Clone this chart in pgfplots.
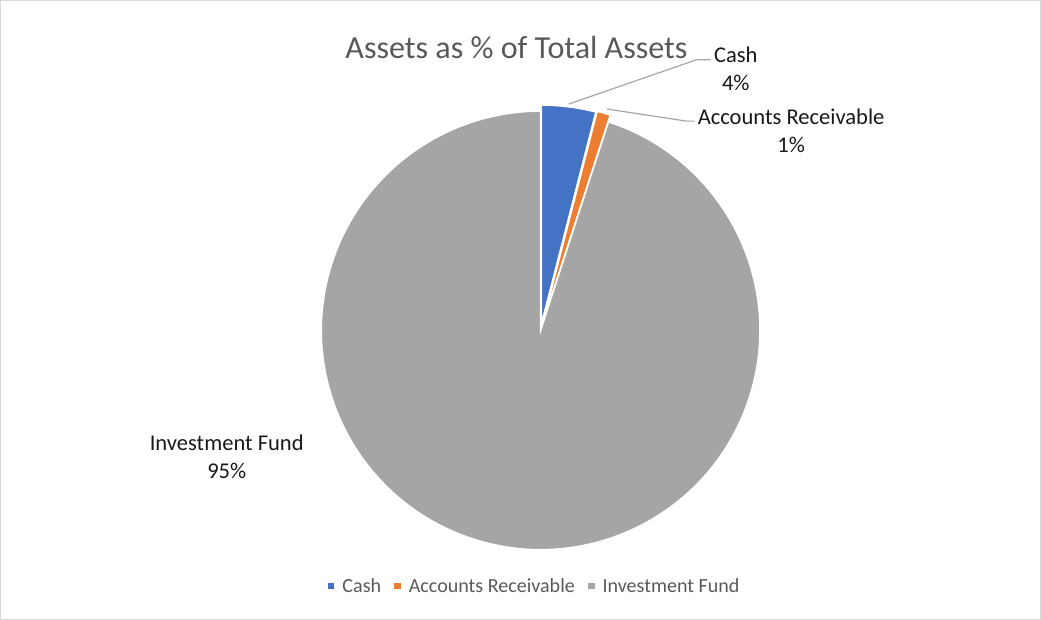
\documentclass[border=0pt]{standalone}
\usepackage{pgfplots}
\pgfplotsset{compat=1.18}
\usepackage{pgfplotstable}
\usepackage{fontspec}
\setmainfont{Carlito}

\definecolor{cashblue}{HTML}{4472C4}
\definecolor{arorange}{HTML}{ED7D31}
\definecolor{fundgray}{HTML}{A5A5A5}
\definecolor{txtgray}{HTML}{595959}
\definecolor{leadgray}{HTML}{A6A6A6}

% share of total assets (%), explode distance in px
\pgfplotstableread{
label value explode
Cash 4 6
AR 1 7
Fund 95 0
}\assets

\begin{document}
\begin{tikzpicture}
\begin{axis}[
  x=1bp, y=1bp,
  xmin=0, xmax=1041, ymin=0, ymax=623,
  hide axis,
  clip=false,
  legend columns=3,
  legend style={
    at={(axis cs:536,36)}, anchor=center,
    draw=none, fill=none,
    font=\fontsize{20}{23}\selectfont\color{txtgray},
    /tikz/every odd column/.append style={column sep=6bp},
    /tikz/every even column/.append style={column sep=11bp},
  },
  legend image code/.code={
    \fill[#1, draw=none] (0bp,-3.3bp) rectangle (6.6bp,3.3bp);
  },
]
% frame
\draw[draw=gray!30, line width=0.8bp] (axis cs:5,3) rectangle (axis cs:1039,618);

\addlegendimage{fill=cashblue}
\addlegendentry{Cash}
\addlegendimage{fill=arorange}
\addlegendentry{Accounts Receivable}
\addlegendimage{fill=fundgray}
\addlegendentry{Investment Fund}

\pgfplotsextra{
  \foreach \i/\col in {0/cashblue,1/arorange,2/fundgray}{
    \pgfplotstablegetelem{\i}{value}\of\assets \let\v\pgfplotsretval
    \pgfplotstablegetelem{\i}{explode}\of\assets \let\ex\pgfplotsretval
    \pgfmathsetmacro\cumbefore{0}
    \ifnum\i>0 \pgfplotstablegetelem{0}{value}\of\assets \pgfmathsetmacro\cumbefore{\pgfplotsretval}\fi
    \ifnum\i>1 \pgfplotstablegetelem{1}{value}\of\assets \pgfmathsetmacro\cumbefore{\cumbefore+\pgfplotsretval}\fi
    \pgfmathsetmacro\aS{90-3.6*\cumbefore}
    \pgfmathsetmacro\aE{90-3.6*(\cumbefore+\v)}
    \pgfmathsetmacro\aM{(\aS+\aE)/2}
    \pgfmathsetmacro\cx{542+\ex*cos(\aM)}
    \pgfmathsetmacro\cy{290+\ex*sin(\aM)}
    \filldraw[fill=\col, draw=white, line width=1.6bp]
      (axis cs:\cx,\cy) -- ++(\aS:218bp) arc[start angle=\aS, end angle=\aE, radius=218bp] -- cycle;
  }
}

% title
\node[text=txtgray, font=\fontsize{32}{38}\selectfont] at (axis cs:518,571) {Assets as \% of Total Assets};

% leader lines
\draw[leadgray, line width=1.2bp] (axis cs:570,515) -- (axis cs:697,559) -- (axis cs:711,559);
\draw[leadgray, line width=1.2bp] (axis cs:608,510) -- (axis cs:687,498) -- (axis cs:695,498);

% data labels
\node[align=center, text=black!90, font=\fontsize{22.5}{28}\selectfont] at (axis cs:736,550) {Cash\\4\%};
\node[align=center, text=black!90, font=\fontsize{22.5}{28}\selectfont] at (axis cs:791,488) {Accounts Receivable\\1\%};
\node[align=center, text=black!90, font=\fontsize{22.5}{28}\selectfont] at (axis cs:230,164) {Investment Fund\\95\%};
\end{axis}
\end{tikzpicture}
\end{document}
